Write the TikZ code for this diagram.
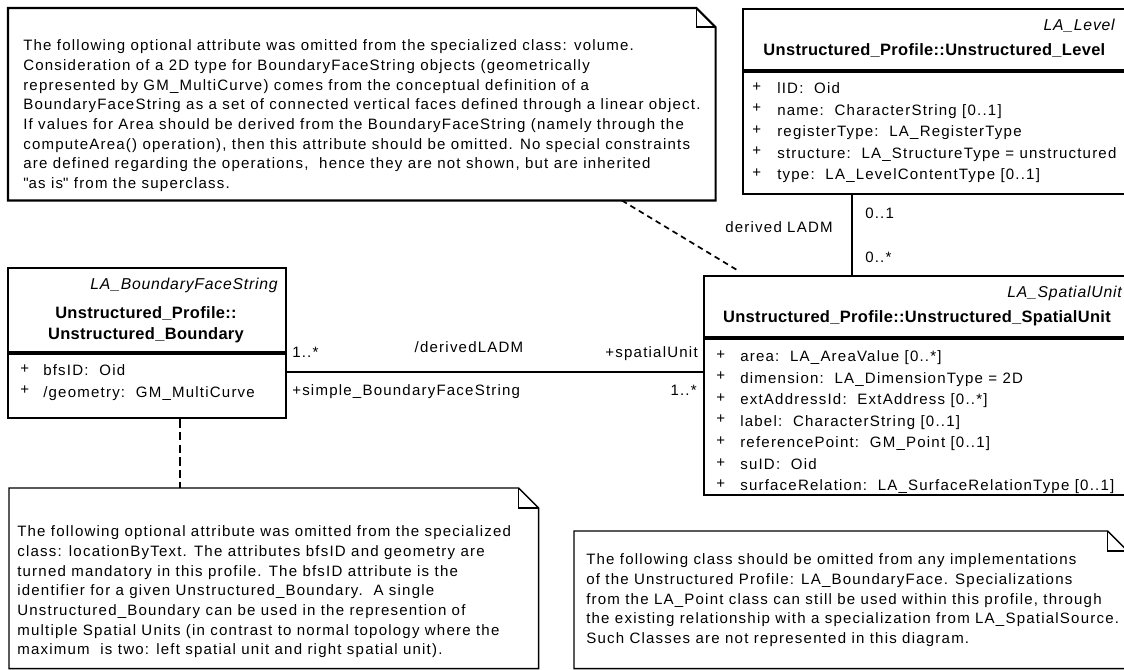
\documentclass[tikz,border=0pt]{standalone}
\usepackage{fontspec}
\setmainfont{Liberation Sans}[LetterSpace=8, BoldFeatures={LetterSpace=2}, ItalicFeatures={LetterSpace=5}]
\usepackage{tikz}
\usetikzlibrary{positioning,calc}

\begin{document}
\begin{tikzpicture}[
    font=\fontsize{10.7}{15}\selectfont,
    classbox/.style={draw, line width=1.5pt, anchor=north west, inner sep=0pt},
    stereo/.style={font=\fontsize{11.2}{15}\selectfont\itshape, anchor=base east, inner sep=0pt},
    cname/.style={font=\fontsize{11.7}{15}\selectfont\bfseries, align=center, inner sep=0pt},
    attr/.style={align=left, anchor=north west, inner sep=0pt, font=\fontsize{10.7}{15.3}\selectfont},
    notebox/.style={anchor=north west, inner sep=0pt},
    noteline/.style={line width=1pt},
    notetext/.style={align=left, anchor=north west, inner sep=0pt, font=\fontsize{10.7}{14}\selectfont},
    mult/.style={inner sep=0pt},
    assoc/.style={line width=1pt},
    dep/.style={line width=1.2pt, dash pattern=on 4pt off 3pt}
]
\useasboundingbox (0,0) rectangle (28.1,16.75);

% Note on volume
\node[notebox, minimum width=17.675cm, minimum height=4.8cm] (note1) at (0.2,16.55) {};
\draw[noteline, line width=1.5pt] (note1.south west) -- (note1.north west) -- ([xshift=-0.48cm]note1.north east) -- ([yshift=-0.48cm]note1.north east) -- (note1.south east) -- cycle;
\draw[noteline] ([xshift=-0.48cm]note1.north east) |- ([yshift=-0.48cm]note1.north east);
\node[notetext] (note1txt) at (0.575,15.76) {The following optional attribute was omitted from the specialized class: volume.\\
Consideration of a 2D type for BoundaryFaceString objects (geometrically\\
represented by GM\_MultiCurve) comes from the conceptual definition of a\\
BoundaryFaceString as a set of connected vertical faces defined through a linear object.\\
If values for Area should be derived from the BoundaryFaceString (namely through the\\
computeArea() operation), then this attribute should be omitted. No special constraints\\
are defined regarding the operations,\ \ hence they are not shown, but are inherited\\
\textquotedbl as is\textquotedbl{} from the superclass.};

% Unstructured_Level
\node[classbox, minimum width=9.625cm, minimum height=1.525cm] (lvhdr) at (18.55,16.55) {};
\node[classbox, minimum width=9.625cm, minimum height=3.05cm] (lvbody) at (lvhdr.south west) {};
\node[stereo] (lvster) at (27.875,15.99) {LA\_Level};
\node[cname, anchor=base] (lvname) at (23.36,15.365) {Unstructured\_Profile::Unstructured\_Level};
\node[attr] (lvplus) at (18.8,14.69) {+\\+\\+\\+\\+};
\node[attr] (lvattr) at (19.425,14.69) {lID:\ \ Oid\\
name:\ \ CharacterString [0..1]\\
registerType:\ \ LA\_RegisterType\\
structure:\ \ LA\_StructureType = unstructured\\
type:\ \ LA\_LevelContentType [0..1]};

% Unstructured_SpatialUnit
\node[classbox, minimum width=10.6cm, minimum height=1.525cm] (suhdr) at (17.575,9.875) {};
\node[classbox, minimum width=10.6cm, minimum height=3.9cm] (subody) at (suhdr.south west) {};
\node[stereo] (suster) at (28.05,9.315) {LA\_SpatialUnit};
\node[cname, anchor=base] (suname) at (22.925,8.69) {Unstructured\_Profile::Unstructured\_SpatialUnit};
\node[attr] (suplus) at (17.9,7.9875) {+\\+\\+\\+\\+\\+\\+};
\node[attr] (suattr) at (18.5,7.9875) {area:\ \ LA\_AreaValue [0..*]\\
dimension:\ \ LA\_DimensionType = 2D\\
extAddressId:\ \ ExtAddress [0..*]\\
label:\ \ CharacterString [0..1]\\
referencePoint:\ \ GM\_Point [0..1]\\
suID:\ \ Oid\\
surfaceRelation:\ \ LA\_SurfaceRelationType [0..1]};

% Unstructured_Boundary
\node[classbox, minimum width=6.95cm, minimum height=2.1cm] (bndhdr) at (0.175,10.075) {};
\node[classbox, minimum width=6.95cm, minimum height=1.6cm] (bndbody) at (bndhdr.south west) {};
\node[stereo] (bndster) at (6.95,9.515) {LA\_BoundaryFaceString};
\node[cname, anchor=north] (bndname) at (3.65,9.1) {Unstructured\_Profile::\\Unstructured\_Boundary};
\node[attr] (bndplus) at (0.5,7.6375) {+\\+};
\node[attr] (bndattr) at (1.075,7.6375) {bfsID:\ \ Oid\\/geometry:\ \ GM\_MultiCurve};

% Note on locationByText
\node[notebox, minimum width=13.225cm, minimum height=4.5cm] (note2) at (0.225,4.55) {};
\draw[noteline] (note2.south west) -- (note2.north west) -- ([xshift=-0.5cm]note2.north east) -- ([yshift=-0.5cm]note2.north east) -- (note2.south east) -- cycle;
\draw[noteline] ([xshift=-0.5cm]note2.north east) |- ([yshift=-0.5cm]note2.north east);
\node[notetext] (note2txt) at (0.425,3.6125) {The following optional attribute was omitted from the specialized\\
class: locationByText. The attributes bfsID and geometry are\\
turned mandatory in this profile. The bfsID attribute is the\\
identifier for a given Unstructured\_Boundary.\ \ A single\\
Unstructured\_Boundary can be used in the represention of\\
multiple Spatial Units (in contrast to normal topology where the\\
maximum\ \ is two: left spatial unit and right spatial unit).};

% Note on LA_BoundaryFace
\node[notebox, minimum width=13.825cm, minimum height=3.425cm] (note3) at (14.35,3.475) {};
\draw[noteline] (note3.south west) -- (note3.north west) -- ([xshift=-0.5cm]note3.north east) -- ([yshift=-0.5cm]note3.north east) -- (note3.south east) -- cycle;
\draw[noteline] ([xshift=-0.5cm]note3.north east) |- ([yshift=-0.5cm]note3.north east);
\node[notetext] (note3txt) at (14.65,2.9125) {The following class should be omitted from any implementations\\
of the Unstructured Profile: LA\_BoundaryFace. Specializations\\
from the LA\_Point class can still be used within this profile, through\\
the existing relationship with a specialization from LA\_SpatialSource.\\
Such Classes are not represented in this diagram.};

% Boundary - SpatialUnit association
\coordinate (bsu) at ([yshift=-0.475cm]bndbody.north east);
\draw[assoc] (bsu) -- (bsu -| subody.west);
\node[mult, anchor=base west] (m1) at (7.3,7.815) {1..*};
\node[mult, anchor=base] (assocname) at (11.725,7.94) {/derivedLADM};
\node[mult, anchor=base east] (surole) at (17.45,7.815) {+spatialUnit};
\node[mult, anchor=base west] (bndrole) at (7.3,6.865) {+simple\_BoundaryFaceString};
\node[mult, anchor=base east] (m2) at (17.425,6.865) {1..*};

% Level - SpatialUnit association
\coordinate (lvsu) at ([xshift=2.75cm]lvbody.south west);
\draw[assoc] (lvsu) -- (lvsu |- suhdr.north);
\node[mult, anchor=base west] (m3) at (21.625,11.29) {0..1};
\node[mult, anchor=base west] (m4) at (21.625,10.19) {0..*};
\node[mult, anchor=base] (lvassoc) at (19.475,10.94) {derived LADM};

% Note anchors
\draw[dep] ([xshift=15.35cm]note1.south west) -- ([xshift=0.85cm, yshift=0.125cm]suhdr.north west);
\coordinate (bndnote) at ([xshift=4.325cm]bndbody.south west);
\draw[dep, line width=1.8pt, dash pattern=on 6pt off 3pt] (bndnote) -- (bndnote |- note2.north);

\end{tikzpicture}
\end{document}
